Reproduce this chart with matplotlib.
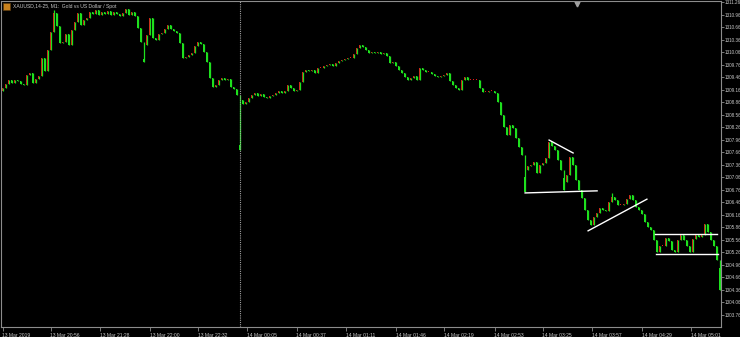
import numpy as np
import matplotlib
matplotlib.use('Agg')
import matplotlib.pyplot as plt
from matplotlib.patches import Rectangle

plt.rcParams['font.family'] = ['Liberation Sans', 'DejaVu Sans']

# XAUUSD M1 closes, one per bar
close = [
    1309.20, 1309.29, 1309.39, 1309.32, 1309.39, 1309.37, 1309.29, 1309.27, 1309.51, 1309.56,
    1309.32, 1309.41, 1309.49, 1309.92, 1309.61, 1310.11, 1310.54, 1311.00, 1310.69, 1310.28,
    1310.30, 1310.49, 1310.23, 1310.59, 1310.78, 1311.00, 1310.71, 1310.83, 1310.88, 1311.02,
    1310.97, 1311.07, 1310.95, 1311.02, 1310.97, 1311.05, 1310.95, 1311.02, 1310.97, 1310.93,
    1311.00, 1311.09, 1310.95, 1311.02, 1310.93, 1310.64, 1310.30, 1310.23, 1310.47, 1310.88,
    1310.40, 1310.35, 1310.49, 1310.52, 1310.61, 1310.71, 1310.61, 1310.57, 1310.52, 1310.28,
    1309.92, 1309.94, 1309.99, 1310.04, 1310.21, 1310.30, 1310.25, 1310.06, 1309.82, 1309.44,
    1309.22, 1309.27, 1309.39, 1309.44, 1309.39, 1309.41, 1309.22, 1309.17, 1309.03, 1308.91,
    1308.81, 1308.86, 1308.96, 1309.03, 1309.08, 1309.01, 1309.05, 1308.98, 1308.96, 1309.01,
    1309.03, 1309.08, 1309.13, 1309.08, 1309.13, 1309.27, 1309.20, 1309.13, 1309.15, 1309.34,
    1309.58, 1309.63, 1309.61, 1309.63, 1309.56, 1309.68, 1309.68, 1309.73, 1309.75, 1309.77,
    1309.73, 1309.80, 1309.85, 1309.87, 1309.89, 1309.92, 1309.92, 1310.01, 1310.16, 1310.23,
    1310.18, 1310.11, 1310.04, 1310.06, 1310.04, 1310.06, 1310.01, 1310.04, 1309.97, 1309.80,
    1309.82, 1309.73, 1309.63, 1309.56, 1309.46, 1309.39, 1309.44, 1309.49, 1309.39, 1309.68,
    1309.63, 1309.58, 1309.58, 1309.53, 1309.49, 1309.46, 1309.49, 1309.51, 1309.56, 1309.37,
    1309.27, 1309.20, 1309.15, 1309.39, 1309.46, 1309.39, 1309.39, 1309.39, 1309.39, 1309.20,
    1309.10, 1309.10, 1309.13, 1309.13, 1309.08, 1308.86, 1308.55, 1308.26, 1308.07, 1308.31,
    1308.24, 1308.00, 1307.78, 1307.59, 1307.23, 1307.33, 1307.35, 1307.42, 1307.16, 1307.35,
    1307.40, 1307.52, 1307.90, 1307.81, 1307.71, 1307.47, 1307.23, 1306.94, 1307.11, 1307.54,
    1307.35, 1306.99, 1306.75, 1306.56, 1306.27, 1306.03, 1305.91, 1306.10, 1306.20, 1306.32,
    1306.27, 1306.25, 1306.46, 1306.58, 1306.51, 1306.39, 1306.39, 1306.41, 1306.53, 1306.63,
    1306.51, 1306.34, 1306.27, 1306.17, 1305.98, 1305.86, 1305.79, 1305.55, 1305.26, 1305.41,
    1305.41, 1305.60, 1305.53, 1305.31, 1305.26, 1305.55, 1305.67, 1305.55, 1305.41, 1305.26,
    1305.57, 1305.67, 1305.62, 1305.67, 1305.93, 1305.74, 1305.55, 1305.41, 1305.07, 1304.54,
]
first_open = 1309.12

# bars with long wicks
spike_bar = [17, 47, 79, 174, 187, 203, 239]
spike_price = [1311.07, 1309.82, 1307.71, 1306.70, 1306.75, 1306.68, 1304.35]

# user drawn trend lines: (bar1, price1, bar2, price2)
trend_lines = [
    (182.2, 1307.95, 190.2, 1307.64),
    (174.2, 1306.68, 198.2, 1306.73),
    (195.2, 1305.77, 214.8, 1306.53),
    (217.5, 1305.69, 238.2, 1305.69),
    (217.8, 1305.21, 238.5, 1305.21),
]

price_ticks = [1311.26 - 0.30 * k for k in range(26)]
time_pos = [0, 16, 32.5, 49, 65, 81.5, 98, 114.5, 131, 147, 164, 180, 196.5, 213, 229.5]
time_lab = ['13 Mar 2019', '13 Mar 20:56', '13 Mar 21:28', '13 Mar 22:00', '13 Mar 22:32',
            '14 Mar 00:05', '14 Mar 00:37', '14 Mar 01:11', '14 Mar 01:46', '14 Mar 02:19',
            '14 Mar 02:53', '14 Mar 03:25', '14 Mar 03:57', '14 Mar 04:29', '14 Mar 05:01']
day_sep = 79
shift_bar = 191.5

close = np.array(close)
n = len(close)
x = np.arange(n)
opn = np.concatenate([[first_open], close[:-1]])
hi = np.maximum(opn, close)
lo = np.minimum(opn, close)
for b, p in zip(spike_bar, spike_price):
    hi[b] = max(hi[b], p)
    lo[b] = min(lo[b], p)

green = '#1ee01e'
red = '#e01a1a'
fg = '#c8c8c8'

fig = plt.figure(figsize=(7.4, 3.37), dpi=100, facecolor='black')
ax = fig.add_axes([1/740, 1 - 327/337, 720/740, 326/337])
ax.set_facecolor('black')

ax.vlines(x, lo, hi, color=green, lw=0.9)
up = close >= opn
body_h = np.maximum(np.abs(close - opn), 0.02)
ax.bar(x[up], body_h[up], bottom=lo[up], width=0.6, color=red, linewidth=0)
ax.bar(x[~up], body_h[~up], bottom=lo[~up], width=0.6, color=green, linewidth=0)

for b1, p1, b2, p2 in trend_lines:
    ax.plot([b1, b2], [p1, p2], color='white', lw=1.0)

ax.axvline(day_sep, color='#a0a0a0', lw=0.8, ls=(0, (1, 1)))

ax.set_xlim(-0.5, 239.5)
ax.set_ylim(1303.46, 1311.29)

ax.plot([shift_bar], [1311.22], marker='v', color='#a0a0a0', ms=3.5, clip_on=False)

for s in ax.spines.values():
    s.set_color('#8c8c8c')
    s.set_linewidth(0.8)

ax.yaxis.tick_right()
ax.set_yticks(price_ticks)
ax.set_yticklabels(['%.2f' % p for p in price_ticks])
ax.tick_params(axis='y', labelsize=3.3, length=2, width=0.6, pad=0.6)
ax.set_xticks(time_pos)
ax.set_xticklabels(time_lab)
for t in ax.get_xticklabels():
    t.set_horizontalalignment('left')
ax.tick_params(axis='x', labelsize=3.6, length=3, width=0.6, pad=1.5)
ax.tick_params(colors='#8c8c8c', labelcolor=fg)

fig.patches.append(Rectangle((3/740, 1 - 10/337), 7/740, 7/337, transform=fig.transFigure,
                             facecolor='#c8821e', edgecolor='#5a3a10', lw=0.5))
fig.text(13/740, 1 - 6.5/337, 'XAUUSD,14-25, M1:  Gold vs US Dollar / Spot',
         color=fg, fontsize=3.6, va='center', ha='left')

fig.savefig('out.png', dpi=100, facecolor='black')
